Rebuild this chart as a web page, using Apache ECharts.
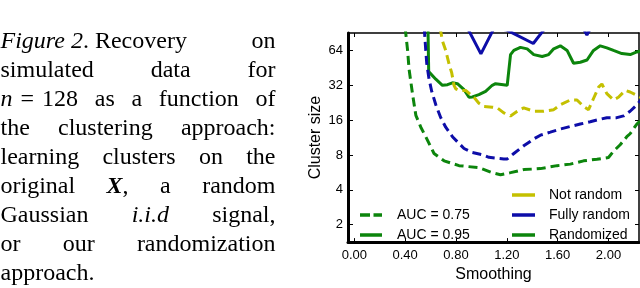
<!DOCTYPE html>
<html><head><meta charset="utf-8">
<script src="https://cdn.jsdelivr.net/npm/echarts@6/dist/echarts.min.js"></script>
<style>html,body{margin:0;padding:0;background:#fff}#c{width:640px;height:288px}</style>
</head><body><div id="c"></div>
<script>
// ---- tick labels ----
const xTicks = [0, 0.4, 0.8, 1.2, 1.6, 2.0];
const yTicks = [2, 4, 8, 16, 32, 64];

// ---- legend labels ----
const aucLabels = ['AUC = 0.75', 'AUC = 0.95'];
const methodLabels = ['Not random', 'Fully random', 'Randomized'];

// ---- series: smoothing (x) and cluster size (y) ----
// Randomized, AUC = 0.75 (green dashed)
const randDashX = [0.40, 0.419, 0.431, 0.458, 0.484, 0.523, 0.562, 0.627, 0.706, 0.824, 0.98, 1.085, 1.15, 1.229, 1.333, 1.464, 1.595, 1.70, 1.804, 1.909, 2.0, 2.039, 2.092, 2.144, 2.17, 2.223, 2.27];
const randDashY = [100, 64, 43.7, 26.8, 17.6, 13.9, 11.5, 8.24, 7.12, 6.47, 6.21, 5.63, 5.4, 5.63, 5.98, 6.1, 6.47, 6.67, 7.12, 7.35, 7.6, 8.6, 9.8, 11.5, 12.2, 14.8, 16.5];

// Fully random, AUC = 0.75 (blue dashed)
const fullDashX = [0.55, 0.562, 0.570, 0.588, 0.609, 0.641, 0.680, 0.719, 0.772, 0.811, 0.863, 0.929, 1.007, 1.059, 1.176, 1.203, 1.255, 1.333, 1.412, 1.464, 1.542, 1.62, 1.70, 1.778, 1.856, 1.935, 1.987, 2.066, 2.118, 2.17, 2.21, 2.233, 2.27];
const fullDashY = [100, 64, 49, 36.1, 28.3, 21.7, 16.8, 13.9, 11.5, 10.4, 9.1, 8.4, 8.04, 7.63, 7.39, 7.39, 8.24, 9.6, 11.0, 11.86, 12.6, 13.4, 14.1, 14.8, 15.5, 16.3, 16.8, 16.8, 17.4, 19.1, 21.0, 22.4, 25];

// Not random, AUC = 0.75 (yellow dashed)
const notDashX = [0.675, 0.693, 0.719, 0.745, 0.766, 0.784, 0.798, 0.824, 0.876, 0.941, 0.98, 1.02, 1.085, 1.125, 1.176, 1.229, 1.282, 1.333, 1.412, 1.49, 1.569, 1.621, 1.70, 1.752, 1.804, 1.843, 1.882, 1.922, 1.948, 1.987, 2.039, 2.078, 2.131, 2.17, 2.223, 2.27];
const notDashY = [100, 77.4, 64, 49, 41.1, 32, 29.8, 28.9, 28.9, 25.2, 22.4, 21.0, 20.7, 20.4, 18.5, 17.4, 19.1, 20.4, 19.1, 19.1, 19.7, 21.7, 23.9, 23.9, 21.0, 19.7, 24.6, 30.8, 32.8, 27.1, 23.9, 25.2, 28.9, 28.0, 26.2, 24.5];

// Randomized, AUC = 0.95 (green solid)
const randSolidX = [0.575, 0.585, 0.641, 0.693, 0.733, 0.772, 0.811, 0.863, 0.902, 0.929, 0.980, 1.033, 1.085, 1.111, 1.203, 1.229, 1.255, 1.307, 1.36, 1.412, 1.478, 1.529, 1.569, 1.621, 1.674, 1.725, 1.778, 1.831, 1.882, 1.935, 1.987, 2.039, 2.105, 2.171, 2.223, 2.27];
const randSolidY = [200, 42, 36.1, 32, 32.4, 33.6, 33.0, 29.3, 25.2, 25.4, 26.6, 28.3, 32, 33, 32, 58.9, 64, 68, 66, 58.9, 56.7, 58.9, 66.1, 70.1, 64, 49.6, 50.6, 52.9, 64, 70.1, 67.3, 64, 60.1, 58.9, 62.1, 64];

// Fully random, AUC = 0.95 (blue solid, mostly above the view)
const fullSolidX = [0.5, 0.89, 0.996, 1.10, 1.2, 1.408, 1.49, 1.6, 1.80, 1.83, 1.86, 2.0, 2.3];
const fullSolidY = [150, 100, 59.8, 100, 96, 73.5, 96, 110, 100, 87, 100, 120, 120];

// ---- caption ----
const captionLines = [
  [[['Figure 2', 'i'], ['. Recovery', 'r']], [['on', 'r']]],
  [[['simulated', 'r']], [['data', 'r']], [['for', 'r']]],
  [[['n', 'i'], ['\u2004=\u2004128', 'r']], [['as', 'r']], [['a', 'r']], [['function', 'r']], [['of', 'r']]],
  [[['the', 'r']], [['clustering', 'r']], [['approach:', 'r']]],
  [[['learning', 'r']], [['clusters', 'r']], [['on', 'r']], [['the', 'r']]],
  [[['original', 'r']], [['X', 'bi'], [',', 'r']], [['a', 'r']], [['random', 'r']]],
  [[['Gaussian', 'r']], [['i.i.d', 'i']], [['signal,', 'r']]],
  [[['or', 'r']], [['our', 'r']], [['randomization', 'r']]],
  [[['approach.', 'r']]]
];

const GREEN = '#0c850c', YELLOW = '#c4c000', BLUE = '#0d0da8';
const DASH = [9, 5];
const SANS = "'Liberation Sans', Arial, sans-serif";
const SERIF = "'Liberation Serif', 'Times New Roman', serif";
const CAP_SIZE = 24;
const ICON_SOLID = 'rect';
const ICON_DASHED = 'path://M0,0h10v3.5h-10z M13.5,0h8.5v3.5h-8.5z';

function pairs(xs, ys) { return xs.map((x, i) => [x, ys[i]]); }

// caption layout (justified lines)
const fontFor = s => (s === 'i' ? 'italic ' : s === 'bi' ? 'italic bold ' : '') + CAP_SIZE + 'px ' + SERIF;
const mctx = document.createElement('canvas').getContext('2d');
function runW(r) { mctx.font = fontFor(r[1]); return mctx.measureText(r[0]).width; }
const capLeft = 0.5, capWidth = 275, capTop = 42, capStep = 29;
const graphics = [];
captionLines.forEach((words, li) => {
  const widths = words.map(w => w.reduce((s, r) => s + runW(r), 0));
  const total = widths.reduce((a, b) => a + b, 0);
  const last = li === captionLines.length - 1;
  mctx.font = fontFor('r');
  const gap = (!last && words.length > 1) ? (capWidth - total) / (words.length - 1) : mctx.measureText(' ').width;
  let x = capLeft;
  const y = capTop + li * capStep;
  words.forEach((w, wi) => {
    let rx = x;
    w.forEach(r => {
      graphics.push({ type: 'text', silent: true, style: { text: r[0], x: rx, y: y, font: fontFor(r[1]), fill: '#000', align: 'left', verticalAlign: 'middle' } });
      rx += runW(r);
    });
    x += widths[wi] + gap;
  });
});

const chart = echarts.init(document.getElementById('c'), null, { renderer: 'canvas', width: 640, height: 288 });

const baseLine = (name, xs, ys, color, dashed) => ({
  name, type: 'line', data: pairs(xs, ys), symbol: 'none', silent: true,
  lineStyle: { color, width: 3, type: dashed ? DASH : 'solid' }, itemStyle: { color }, z: 3
});
const legendLine = (name, color) => ({
  name, type: 'line', data: [], symbol: 'none',
  lineStyle: { color, width: 3 }, itemStyle: { color, borderWidth: 0 }
});

const commonX = { type: 'value', min: -0.05, max: 2.24, splitLine: { show: false } };
const commonY = { type: 'log', logBase: 2, min: Math.SQRT2, max: Math.pow(2, 6.5), splitLine: { show: false } };
const legendText = { fontSize: 14, color: '#000', fontFamily: SANS, lineHeight: 20 };

chart.setOption({
  animation: false,
  backgroundColor: '#fff',
  grid: { left: 348, top: 33, width: 291, height: 215 },
  xAxis: [
    Object.assign({}, commonX, {
      position: 'bottom',
      axisLine: { show: true, onZero: false, lineStyle: { color: '#000', width: 3 } },
      axisTick: { show: true, inside: true, length: 4, customValues: xTicks, lineStyle: { color: '#000', width: 1 } },
      axisLabel: { customValues: xTicks, formatter: v => Number(v).toFixed(2), color: '#000', fontSize: 13, fontFamily: SANS, margin: 7 },
      name: 'Smoothing', nameLocation: 'middle', nameGap: 20,
      nameTextStyle: { fontSize: 16, color: '#000', fontFamily: SANS }
    }),
    Object.assign({}, commonX, {
      position: 'top',
      axisLine: { show: true, onZero: false, lineStyle: { color: '#000', width: 1.5 } },
      axisTick: { show: true, inside: true, length: 4, customValues: xTicks, lineStyle: { color: '#000', width: 1 } },
      axisLabel: { show: false }
    })
  ],
  yAxis: [
    Object.assign({}, commonY, {
      position: 'left',
      axisLine: { show: true, onZero: false, lineStyle: { color: '#000', width: 3 } },
      axisTick: { show: true, inside: true, length: 5, customValues: yTicks, lineStyle: { color: '#000', width: 1 } },
      axisLabel: { customValues: yTicks, color: '#000', fontSize: 13, fontFamily: SANS, margin: 5 },
      name: 'Cluster size', nameLocation: 'middle', nameGap: 24, nameRotate: 90,
      nameTextStyle: { fontSize: 16, color: '#000', fontFamily: SANS }
    }),
    Object.assign({}, commonY, {
      position: 'right',
      axisLine: { show: true, onZero: false, lineStyle: { color: '#000', width: 1.5 } },
      axisTick: { show: true, inside: true, length: 4, customValues: yTicks, lineStyle: { color: '#000', width: 1 } },
      axisLabel: { show: false }
    })
  ],
  legend: [
    {
      data: [{ name: aucLabels[0], icon: ICON_DASHED }, { name: aucLabels[1], icon: ICON_SOLID }],
      orient: 'vertical', left: 360, top: 205, padding: 0,
      itemWidth: 22, itemHeight: 3.5, itemGap: 0, selectedMode: false,
      itemStyle: { borderWidth: 0 },
      textStyle: Object.assign({ padding: [0, 0, 0, 10] }, legendText)
    },
    {
      data: methodLabels.map(n => ({ name: n, icon: ICON_SOLID })),
      orient: 'vertical', left: 512, top: 185, padding: 0,
      itemWidth: 23, itemHeight: 3.5, itemGap: 0, selectedMode: false,
      itemStyle: { borderWidth: 0 },
      textStyle: Object.assign({ padding: [0, 0, 0, 9] }, legendText)
    }
  ],
  graphic: graphics,
  series: [
    baseLine('Randomized, AUC 0.95', randSolidX, randSolidY, GREEN, false),
    baseLine('Fully random, AUC 0.95', fullSolidX, fullSolidY, BLUE, false),
    baseLine('Not random, AUC 0.75', notDashX, notDashY, YELLOW, true),
    baseLine('Fully random, AUC 0.75', fullDashX, fullDashY, BLUE, true),
    baseLine('Randomized, AUC 0.75', randDashX, randDashY, GREEN, true),
    legendLine(aucLabels[0], GREEN),
    legendLine(aucLabels[1], GREEN),
    legendLine(methodLabels[0], YELLOW),
    legendLine(methodLabels[1], BLUE),
    legendLine(methodLabels[2], GREEN)
  ]
});
</script>
</body></html>
